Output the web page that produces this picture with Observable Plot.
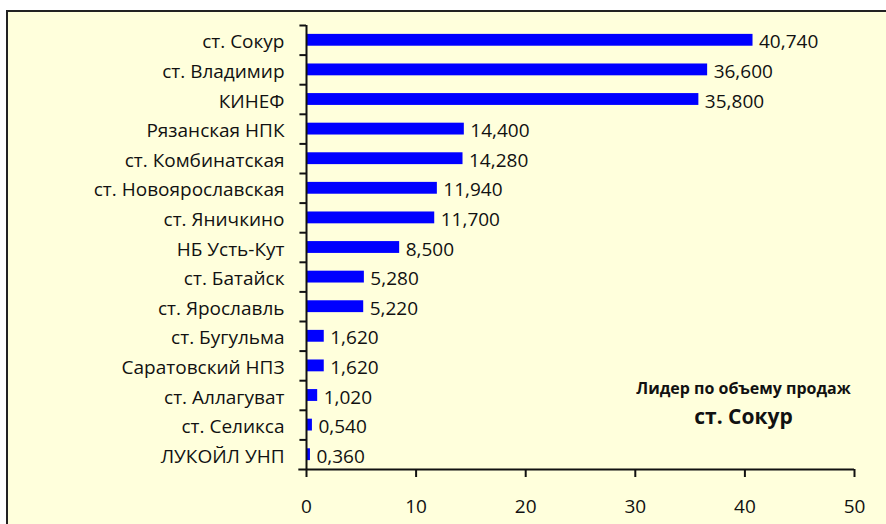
<!DOCTYPE html>
<html><head><meta charset="utf-8">
<script src="https://cdn.jsdelivr.net/npm/d3@7"></script>
<script src="https://cdn.jsdelivr.net/npm/@observablehq/plot@0.6"></script>
<style>
html,body{margin:0;padding:0;background:#fff;width:886px;height:524px;overflow:hidden;font-family:"Open Sans",sans-serif;}
#panel{position:absolute;left:6px;top:10px;width:880px;height:514px;background:#FFFFDC;border-left:2px solid #222;border-top:2px solid #222;box-sizing:border-box;}
#chart{position:absolute;left:0;top:0;}
</style></head>
<body>
<div id="panel"></div>
<div id="chart"></div>
<script>
const categories = ["ст. Сокур","ст. Владимир","КИНЕФ","Рязанская НПК","ст. Комбинатская","ст. Новоярославская","ст. Яничкино","НБ Усть-Кут","ст. Батайск","ст. Ярославль","ст. Бугульма","Саратовский НПЗ","ст. Аллагуват","ст. Селикса","ЛУКОЙЛ УНП"];
const values = [40.74,36.6,35.8,14.4,14.28,11.94,11.7,8.5,5.28,5.22,1.62,1.62,1.02,0.54,0.36];
const xTicks = [0,10,20,30,40,50];
const noteTitle = "Лидер по объему продаж";
const noteLeader = "ст. Сокур";

const data = categories.map((c,i)=>({name:c, value:values[i]}));
const fmt = v => v.toFixed(3).replace(".", ",");
const H = 524, mTop = 25, mBottom = 55;
const step = (H - mTop - mBottom) / categories.length;
const ink = "#111";
const fs = 19;

const plot = Plot.plot({
  width: 886, height: H,
  marginLeft: 306, marginRight: 32, marginTop: mTop, marginBottom: mBottom,
  style: {background: "transparent", fontFamily: "'Open Sans', sans-serif", fontSize: fs + "px", color: ink, overflow: "visible"},
  x: {domain: [0,50], ticks: xTicks, label: null},
  y: {domain: categories, paddingInner: 0.6, paddingOuter: 0.3, round: false, label: null},
  marks: [
    Plot.barX(data, {y: "name", x: "value", fill: "#0000FF"}),
    Plot.text(data, {y: "name", x: "value", text: d => fmt(d.value), textAnchor: "start", dx: 6, dy: 2, fill: ink, fontSize: fs}),
    Plot.axisY({tickSize: 0, tickPadding: 22, dy: 2, fontSize: fs, fill: ink, stroke: null, label: null}),
    Plot.ruleY(categories, {y: d => d, x1: -0.6, x2: 0, dy: -step/2, stroke: ink, strokeWidth: 2}),
    Plot.ruleY([categories[categories.length-1]], {y: d => d, x1: -0.7, x2: 50, dy: step/2, stroke: ink, strokeWidth: 2}),
    Plot.ruleX([0], {stroke: ink, strokeWidth: 2}),
    Plot.axisX({ticks: xTicks, tickSize: 8, tickPadding: 22, fontSize: fs, fill: ink, stroke: ink, strokeWidth: 2, tickFormat: d => String(d), label: null}),
    Plot.text([noteTitle], {frameAnchor: "bottom-right", dx: -111, dy: -76, text: d => d, fontWeight: "bold", fontSize: 16, fill: ink, textAnchor: "middle"}),
    Plot.text([noteLeader], {frameAnchor: "bottom-right", dx: -111, dy: -46, text: d => d, fontWeight: "bold", fontSize: 21, fill: ink, textAnchor: "middle"})
  ]
});
document.getElementById("chart").appendChild(plot);
</script>
</body></html>
